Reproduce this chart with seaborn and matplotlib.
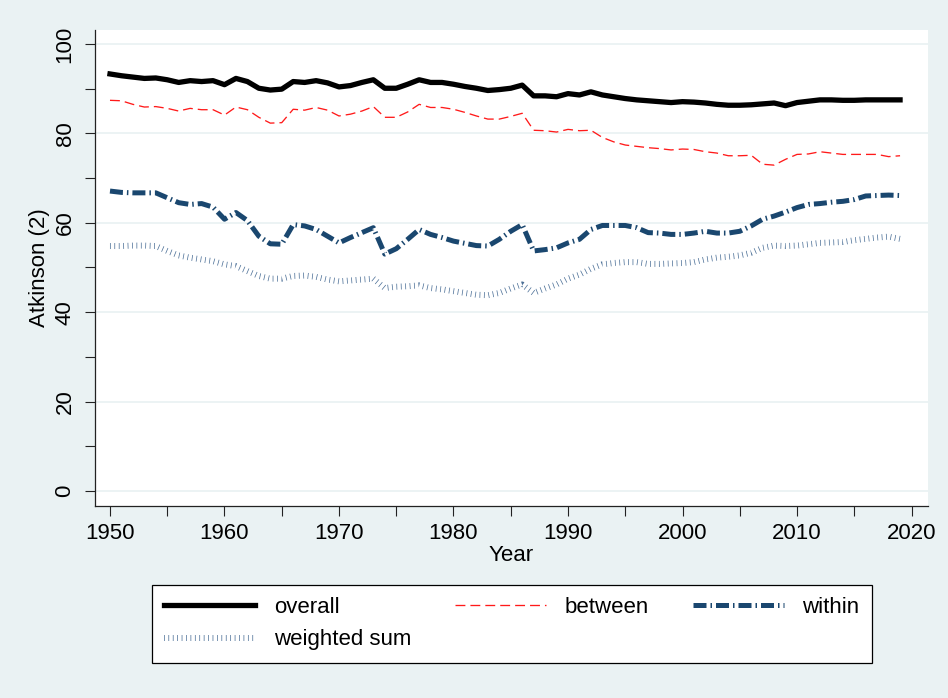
import pandas as pd
import matplotlib
matplotlib.use("Agg")
import matplotlib.pyplot as plt
from matplotlib.ticker import MultipleLocator
import seaborn as sns

years = list(range(1950, 2020))

overall = [93.3, 92.9, 92.6, 92.3, 92.4, 92.0, 91.4, 91.8, 91.6, 91.8,
           90.9, 92.3, 91.6, 90.1, 89.7, 89.9, 91.6, 91.4, 91.8, 91.3,
           90.4, 90.7, 91.4, 92.0, 90.1, 90.1, 91.0, 92.0, 91.4, 91.4,
           91.0, 90.5, 90.1, 89.6, 89.8, 90.1, 90.8, 88.4, 88.4, 88.2,
           88.9, 88.6, 89.3, 88.6, 88.2, 87.8, 87.5, 87.3, 87.1, 86.9,
           87.1, 87.0, 86.8, 86.5, 86.3, 86.3, 86.4, 86.6, 86.8, 86.2,
           86.9, 87.2, 87.5, 87.5, 87.4, 87.4, 87.5, 87.5, 87.5, 87.5]

between = [87.4, 87.3, 86.5, 85.9, 86.0, 85.6, 85.0, 85.6, 85.3, 85.3,
           84.1, 85.9, 85.3, 83.6, 82.3, 82.4, 85.4, 85.2, 85.8, 85.2,
           83.9, 84.3, 85.0, 86.0, 83.6, 83.6, 84.8, 86.5, 85.8, 85.8,
           85.4, 84.7, 83.9, 83.2, 83.2, 83.8, 84.5, 80.7, 80.6, 80.3,
           80.9, 80.6, 80.7, 79.1, 78.1, 77.4, 77.1, 76.8, 76.6, 76.3,
           76.5, 76.4, 75.9, 75.6, 75.0, 75.0, 75.1, 73.1, 72.9, 74.2,
           75.3, 75.4, 75.9, 75.6, 75.3, 75.3, 75.3, 75.3, 74.8, 75.0]

within = [67.1, 66.8, 66.7, 66.7, 66.7, 65.6, 64.5, 64.1, 64.3, 63.5,
          60.8, 62.3, 60.5, 57.0, 55.3, 55.2, 59.6, 59.3, 58.5, 57.0,
          55.5, 56.7, 57.8, 58.9, 53.0, 54.2, 56.3, 58.5, 57.4, 56.7,
          55.9, 55.4, 54.9, 54.8, 56.3, 58.1, 59.6, 53.7, 54.0, 54.4,
          55.5, 56.3, 58.5, 59.4, 59.4, 59.4, 58.9, 57.8, 57.7, 57.4,
          57.4, 57.7, 58.1, 57.7, 57.7, 58.1, 59.3, 60.8, 61.5, 62.4,
          63.4, 64.1, 64.3, 64.6, 64.8, 65.2, 66.0, 66.1, 66.2, 66.1]

weighted_sum = [54.8, 54.8, 54.9, 54.9, 54.8, 53.7, 52.7, 52.2, 51.8, 51.4,
                50.7, 50.3, 49.2, 48.1, 47.5, 47.5, 48.1, 48.2, 47.9, 47.3,
                46.9, 47.1, 47.3, 47.5, 45.4, 45.7, 45.8, 46.0, 45.4, 45.1,
                44.7, 44.3, 43.9, 43.8, 44.3, 45.3, 46.2, 44.3, 45.3, 46.2,
                47.5, 48.4, 49.7, 50.7, 51.0, 51.2, 51.2, 50.8, 50.8, 50.9,
                51.0, 51.2, 51.8, 52.2, 52.4, 52.7, 53.3, 54.4, 54.9, 54.8,
                54.9, 55.2, 55.5, 55.6, 55.7, 56.1, 56.4, 56.7, 56.9, 56.4]

BG = "#EAF2F3"
NAVY = "#1A476F"

plt.rcParams["font.family"] = ["Liberation Sans", "DejaVu Sans"]
plt.rcParams["font.size"] = 16

df = pd.DataFrame({"year": years, "overall": overall, "between": between,
                   "within": within, "weighted sum": weighted_sum})

fig = plt.figure(figsize=(9.48, 6.98), dpi=100, facecolor=BG)
ax = fig.add_axes([0.1002, 0.2751, 0.9789 - 0.1002, 0.9577 - 0.2751])
ax.set_facecolor("white")

# series styles (Stata-like)
sns.lineplot(data=df, x="year", y="overall", ax=ax, color="black",
             linewidth=3.8, label="overall", legend=False)
sns.lineplot(data=df, x="year", y="weighted sum", ax=ax, color="#4A6E96",
             linewidth=4.3, linestyle=(0, (0.12, 0.62)), label="weighted sum",
             legend=False)
sns.lineplot(data=df, x="year", y="between", ax=ax, color="#FF1A1A",
             linewidth=0.95, linestyle=(0, (7.5, 3.8)), label="between",
             legend=False)
sns.lineplot(data=df, x="year", y="within", ax=ax, color=NAVY,
             linewidth=3.6, linestyle=(0, (2.6, 0.8, 0.3, 0.8)), label="within",
             legend=False)

ax.set_xlim(1948.69, 2021.44)
ax.set_ylim(-3.36, 103.24)
ax.xaxis.set_major_locator(MultipleLocator(10))
ax.xaxis.set_minor_locator(MultipleLocator(5))
ax.yaxis.set_major_locator(MultipleLocator(20))
ax.yaxis.set_minor_locator(MultipleLocator(10))
ax.set_xticks(range(1950, 2021, 10))

ax.grid(axis="y", which="major", color=BG, linewidth=1.3)
ax.set_axisbelow(True)

for s in ["top", "right"]:
    ax.spines[s].set_visible(False)
for s in ["left", "bottom"]:
    ax.spines[s].set_color("#222222")
    ax.spines[s].set_linewidth(0.9)

ax.tick_params(which="both", length=7, width=0.8, color="#222222")
ax.tick_params(axis="x", which="major", pad=5, labelsize=16)
ax.tick_params(axis="y", which="major", pad=7, labelsize=16, labelrotation=90)
for t in ax.get_yticklabels():
    t.set_va("center")

ax.set_xlabel("Year", fontsize=16, labelpad=1)
ax.set_ylabel("Atkinson (2)", fontsize=16, labelpad=3)

handles, labels = ax.get_legend_handles_labels()
leg = fig.legend(handles, labels, ncol=3, loc="upper left",
                 bbox_to_anchor=(152 / 948, 1 - 585 / 698),
                 frameon=True, fancybox=False, framealpha=1,
                 edgecolor="black", fontsize=16, handlelength=4.1,
                 handletextpad=0.85, columnspacing=1.95, labelspacing=0.5,
                 borderpad=0.55, borderaxespad=0)
leg.get_frame().set_linewidth(0.9)

fig.savefig("out.png", dpi=100, facecolor=BG)
